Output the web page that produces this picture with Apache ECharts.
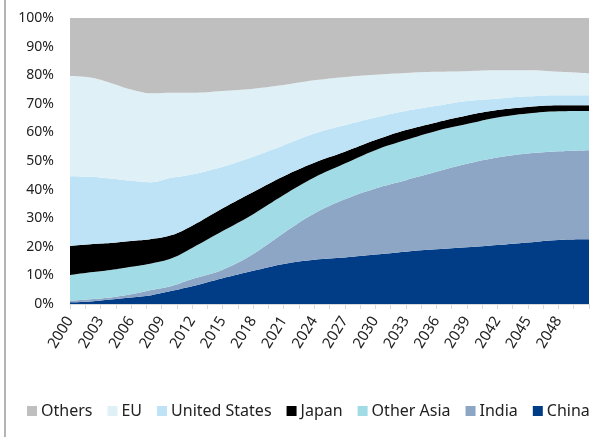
<!DOCTYPE html>
<html>
<head>
<meta charset="utf-8">
<script src="https://cdn.jsdelivr.net/npm/echarts@6/dist/echarts.min.js"></script>
<style>
  html, body { margin: 0; padding: 0; background: #fff; }
  #chart { width: 603px; height: 437px; }
</style>
</head>
<body>
<div id="chart"></div>
<script>
const years = [2000, 2002, 2004, 2006, 2008, 2010, 2012, 2015, 2018, 2021, 2024, 2027, 2030, 2033, 2036, 2039, 2042, 2045, 2048, 2051]

// shares in %, bottom to top
const china        = [0.6, 0.9, 1.6, 2.3, 3.1, 4.6, 6.2, 9.0, 11.6, 14.0, 15.5, 16.3, 17.3, 18.3, 19.1, 19.8, 20.6, 21.5, 22.4, 22.6]
const india        = [0.6, 0.8, 0.7, 1.1, 1.8, 1.7, 2.5, 3.0, 5.9, 10.8, 16.1, 20.3, 23.1, 25.0, 27.1, 29.2, 30.6, 31.1, 31.0, 31.2]
const otherAsia    = [8.9, 9.4, 9.6, 9.6, 9.3, 9.7, 10.9, 13.5, 13.9, 13.3, 12.6, 12.5, 13.4, 14.0, 14.3, 13.9, 14.0, 14.0, 14.0, 13.7]
const japan        = [10.2, 9.8, 9.4, 9.0, 8.5, 8.1, 7.8, 8.0, 7.8, 6.6, 5.2, 4.1, 3.5, 3.5, 3.0, 3.0, 2.6, 2.3, 2.1, 2.0]
const unitedStates = [24.4, 23.6, 22.6, 21.1, 19.9, 20.1, 17.9, 14.5, 12.3, 10.8, 10.2, 9.3, 7.9, 6.7, 5.8, 5.1, 4.0, 3.7, 3.5, 3.5]
const eu           = [35.0, 34.7, 33.4, 31.9, 31.1, 29.7, 28.6, 26.5, 23.8, 21.1, 18.6, 16.9, 15.0, 13.3, 11.9, 10.4, 9.9, 9.1, 8.2, 7.6]
const others       = [20.3, 20.8, 22.7, 25.0, 26.3, 26.1, 26.1, 25.5, 24.7, 23.4, 21.8, 20.6, 19.8, 19.2, 18.8, 18.6, 18.3, 18.3, 18.8, 19.4]

const legendOrder = ['Others', 'EU', 'United States', 'Japan', 'Other Asia', 'India', 'China']

const stackSeries = [
  { name: 'China', values: china, color: '#013C87' },
  { name: 'India', values: india, color: '#8DA6C6' },
  { name: 'Other Asia', values: otherAsia, color: '#A0DBE6' },
  { name: 'Japan', values: japan, color: '#000000' },
  { name: 'United States', values: unitedStates, color: '#BEE3F6' },
  { name: 'EU', values: eu, color: '#DFF0F7' },
  { name: 'Others', values: others, color: '#BFBFBF' }
]

const chart = echarts.init(document.getElementById('chart'), null, { renderer: 'canvas' })

chart.setOption({
  animation: false,
  textStyle: { fontFamily: 'Noto Sans' },
  graphic: [{
    type: 'rect',
    shape: { x: 4, y: 0, width: 2, height: 437 },
    style: { fill: '#B4B4B4' },
    silent: true
  }],
  legend: {
    data: legendOrder,
    bottom: 13,
    left: 22,
    icon: 'rect',
    itemWidth: 10,
    itemHeight: 10,
    itemGap: 15,
    selectedMode: false,
    textStyle: { fontSize: 16, color: '#222', padding: [0, 0, 0, -1] }
  },
  grid: {
    left: 70,
    right: 14,
    top: 18,
    bottom: 133
  },
  xAxis: {
    type: 'value',
    min: 0,
    max: 51,
    interval: 1.5,
    axisLine: { show: true, lineStyle: { color: '#D9D9D9' } },
    axisTick: { show: true, length: 5, lineStyle: { color: '#D9D9D9' } },
    splitLine: { show: false },
    axisLabel: {
      rotate: 58,
      margin: 14,
      fontSize: 15,
      color: '#222',
      formatter: v => (Math.abs(v % 3) < 1e-6 && v <= 48) ? String(2000 + v) : ''
    }
  },
  yAxis: {
    type: 'value',
    min: 0,
    max: 100,
    interval: 10,
    axisLine: { show: false },
    axisTick: { show: false },
    splitLine: { show: false },
    axisLabel: {
      formatter: '{value}%',
      fontSize: 14,
      color: '#222',
      margin: 16
    }
  },
  // share first so it is the stacked dimension, year offset on x
  series: stackSeries.map(s => ({
    name: s.name,
    type: 'line',
    stack: 'total',
    smooth: 0.4,
    symbol: 'none',
    color: s.color,
    lineStyle: { width: 0 },
    areaStyle: { color: s.color, opacity: 1 },
    dimensions: ['share', 'year'],
    encode: { x: 1, y: 0 },
    data: years.map((y, i) => [s.values[i], y - 2000])
  }))
})
</script>
</body>
</html>
